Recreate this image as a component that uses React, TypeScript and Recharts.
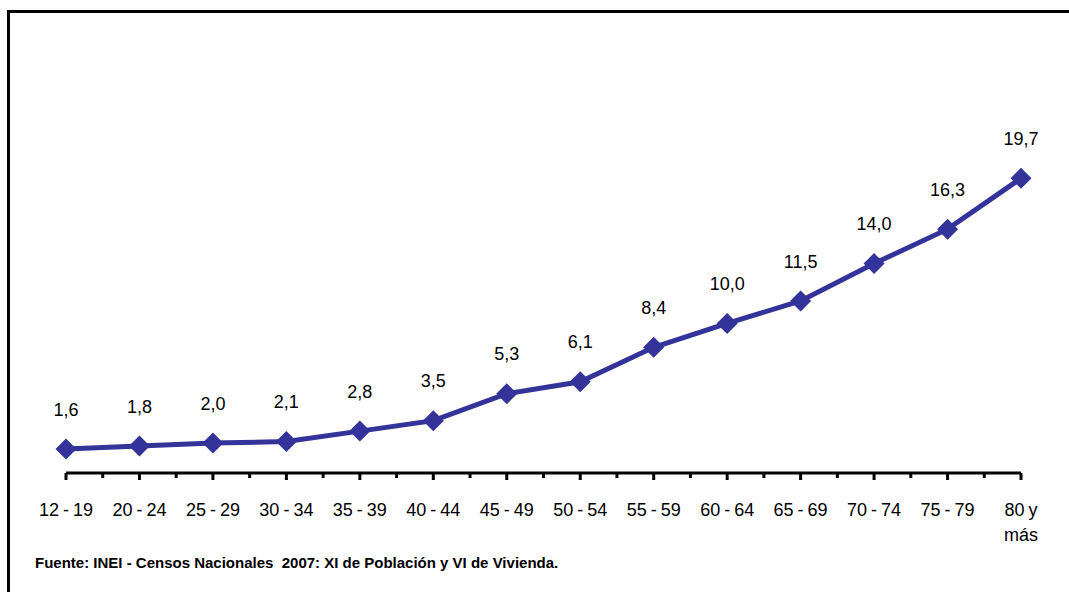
import React from 'react';
import { LineChart, Line, XAxis, YAxis, LabelList } from 'recharts';

const ageGroups = [
  '12 - 19', '20 - 24', '25 - 29', '30 - 34', '35 - 39', '40 - 44', '45 - 49',
  '50 - 54', '55 - 59', '60 - 64', '65 - 69', '70 - 74', '75 - 79', '80 y más',
];
const percentages = [1.6, 1.8, 2.0, 2.1, 2.8, 3.5, 5.3, 6.1, 8.4, 10.0, 11.5, 14.0, 16.3, 19.7];
const sourceNote = 'Fuente: INEI - Censos Nacionales  2007: XI de Población y VI de Vivienda.';

const data = ageGroups.map((group, i) => ({ group, value: percentages[i] }));

const FONT = '"Liberation Sans", Arial, sans-serif';
const LINE_COLOR = '#333399';
const PLOT_LEFT = 66;
const PLOT_RIGHT = 1021;
const step = (PLOT_RIGHT - PLOT_LEFT) / (ageGroups.length - 1);

const Diamond = (props: any) => {
  const { cx, cy } = props;
  if (cx == null || cy == null) return null;
  const r = 10.5;
  return (
    <polygon
      points={`${cx},${cy - r} ${cx + r},${cy} ${cx},${cy + r} ${cx - r},${cy}`}
      fill={LINE_COLOR}
    />
  );
};

// ranges stay on one line, "80 y más" breaks before its last word
const splitLabel = (label: string) => {
  if (label.includes(' - ')) return [label];
  const words = label.split(' ');
  return [words.slice(0, -1).join(' '), words[words.length - 1]];
};

const AxisTick = (props: any) => {
  const { x, y, payload, index } = props;
  const lines = splitLabel(String(payload.value));
  return (
    <g>
      <line x1={x} x2={x} y1={y} y2={y + 7} stroke="#000" strokeWidth={3} />
      {index > 0 && (
        <line x1={x - step / 2} x2={x - step / 2} y1={y} y2={y + 5} stroke="#000" strokeWidth={3} />
      )}
      <text
        x={x}
        y={y + 43}
        textAnchor="middle"
        fontSize={18}
        fontFamily={FONT}
        wordSpacing={-1}
        fill="#000"
      >
        {lines.map((ln, i) => (
          <tspan key={i} x={x} dy={i === 0 ? 0 : 25}>
            {ln}
          </tspan>
        ))}
      </text>
    </g>
  );
};

const ValueLabel = (props: any) => {
  const { x, y, value } = props;
  return (
    <text
      x={x}
      y={y - 38}
      textAnchor="middle"
      dominantBaseline="middle"
      fontSize={18}
      fontFamily={FONT}
      fill="#000"
    >
      {Number(value).toFixed(1).replace('.', ',')}
    </text>
  );
};

const App: React.FC = () => {
  return (
    <div style={{ position: 'absolute', left: 0, top: 0, width: 1069, height: 592, background: '#fff', overflow: 'hidden' }}>
      <div
        style={{
          position: 'absolute',
          left: 7,
          top: 10,
          width: 1069,
          height: 592,
          borderLeft: '3px solid #000',
          borderTop: '3px solid #000',
        }}
      />
      <div style={{ position: 'absolute', left: 0, top: 0 }}>
        <LineChart
          width={1069}
          height={592}
          data={data}
          margin={{ top: 99, right: 1069 - PLOT_RIGHT, left: PLOT_LEFT, bottom: 59 }}
        >
          <XAxis
            dataKey="group"
            height={60}
            interval={0}
            axisLine={{ stroke: '#000', strokeWidth: 3 }}
            tickLine={false}
            tickSize={0}
            tickMargin={0}
            tick={<AxisTick />}
          />
          <YAxis hide domain={[0, 25]} />
          <Line
            type="linear"
            dataKey="value"
            stroke={LINE_COLOR}
            strokeWidth={5}
            dot={<Diamond />}
            activeDot={false}
            isAnimationActive={false}
          >
            <LabelList dataKey="value" content={<ValueLabel />} />
          </Line>
        </LineChart>
      </div>
      <div
        style={{
          position: 'absolute',
          left: 35,
          top: 554,
          fontFamily: FONT,
          fontWeight: 'bold',
          fontSize: 15,
          whiteSpace: 'pre',
          color: '#000',
        }}
      >
        {sourceNote}
      </div>
    </div>
  );
};

export default App;
